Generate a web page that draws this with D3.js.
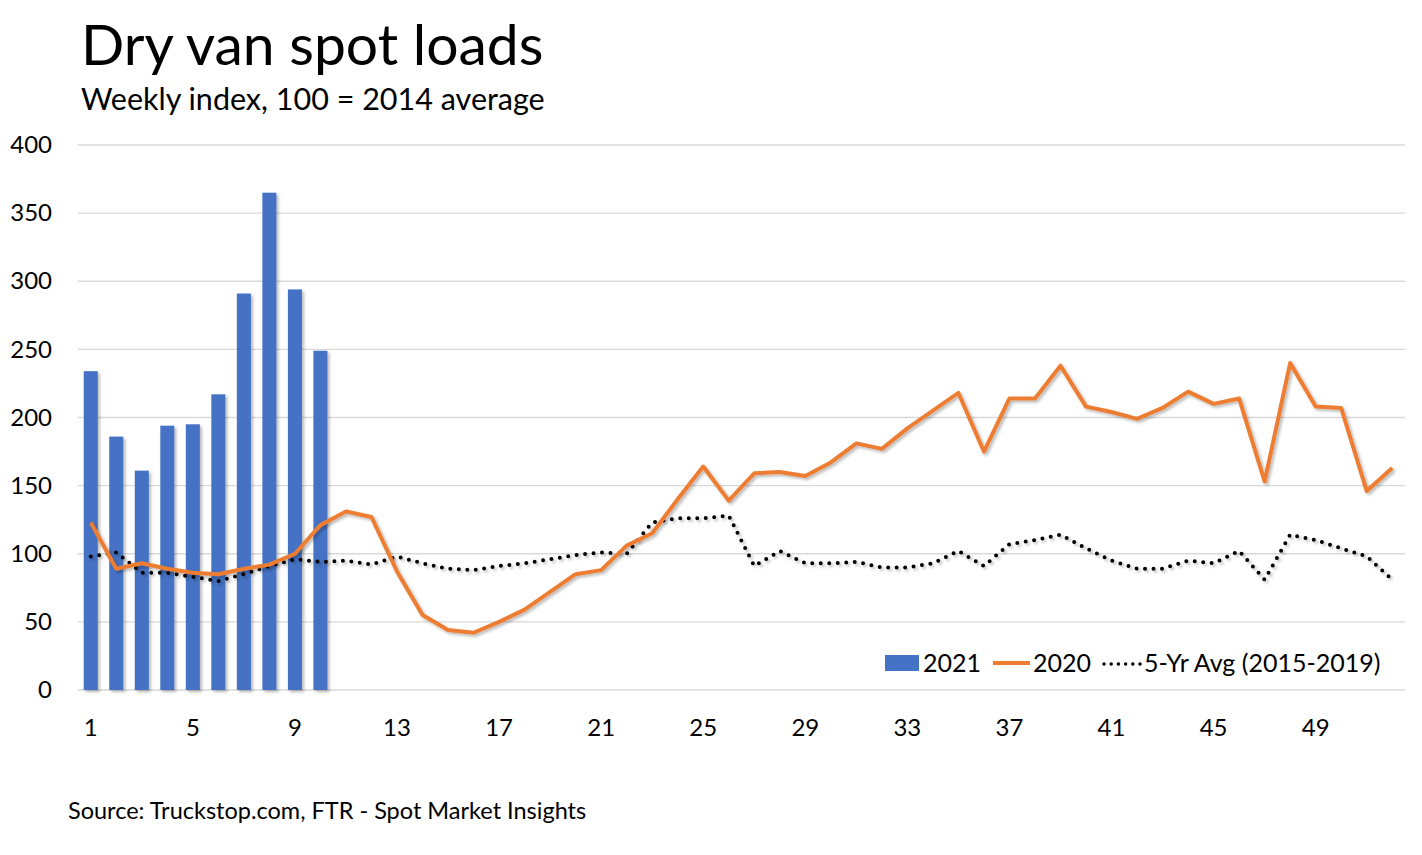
<!DOCTYPE html>
<html>
<head>
<meta charset="utf-8">
<script src="https://cdn.jsdelivr.net/npm/d3@7"></script>
<style>
  body { margin: 0; background: #fff; }
  svg { display: block; font-family: Lato, "Open Sans", sans-serif; }
</style>
</head>
<body>
<svg id="chart"></svg>
<script>
const weeks = d3.range(1, 53);

// 2021 weekly index (bars)
const loads2021 = [234, 186, 161, 194, 195, 217, 291, 365, 294, 249];

// 2020 weekly index
const loads2020 = [123, 89, 93, 89, 86, 85, 89, 92, 100, 121, 131, 127, 87, 55, 44, 42, 50, 59, 72, 85,
    88, 106, 115, 140, 164, 139, 159, 160, 157, 167, 181, 177, 192, 205, 218, 175, 214, 214, 238, 208,
    204, 199, 207, 219, 210, 214, 153, 240, 208, 207, 146, 163];

// 5-yr average 2015-2019
const avg5yr = [98, 101, 86, 86, 83, 80, 85, 91, 96, 94, 95, 92, 98, 93, 89, 88, 91, 93, 96, 99,
    101, 100, 123, 126, 126, 128, 91, 102, 93, 93, 94, 90, 90, 93, 102, 91, 107, 110, 114, 104,
    95, 89, 89, 95, 93, 102, 81, 114, 110, 104, 98, 81];

const yTicks = [0, 50, 100, 150, 200, 250, 300, 350, 400];
const xTicks = [1, 5, 9, 13, 17, 21, 25, 29, 33, 37, 41, 45, 49];

const width = 1422, height = 855;
const plot = { left: 78, right: 1405, top: 145, bottom: 690 };

const svg = d3.select("#chart")
    .attr("width", width)
    .attr("height", height);

// soft shadow like the office chart
const defs = svg.append("defs");
const f = defs.append("filter").attr("id", "shadow")
    .attr("x", "-20%").attr("y", "-20%").attr("width", "140%").attr("height", "140%");
f.append("feDropShadow")
    .attr("dx", 2).attr("dy", 2)
    .attr("stdDeviation", 1.5)
    .attr("flood-color", "#000")
    .attr("flood-opacity", 0.28);

const x = d3.scaleBand()
    .domain(weeks)
    .range([plot.left, plot.right])
    .paddingInner(0.45)
    .paddingOuter(0.225);

const xc = d => x(d) + x.bandwidth() / 2;

const y = d3.scaleLinear()
    .domain([0, 400])
    .range([plot.bottom, plot.top]);

// titles
svg.append("text")
    .attr("x", 81).attr("y", 65)
    .attr("font-size", 57)
    .attr("fill", "#000")
    .text("Dry van spot loads");

svg.append("text")
    .attr("x", 81).attr("y", 110)
    .attr("font-size", 30.5)
    .attr("fill", "#000")
    .text("Weekly index, 100 = 2014 average");

// grid lines
svg.append("g")
    .selectAll("line")
    .data(yTicks)
    .join("line")
    .attr("x1", plot.left).attr("x2", plot.right)
    .attr("y1", d => y(d)).attr("y2", d => y(d))
    .attr("stroke", "#d9d9d9")
    .attr("stroke-width", 1.3);

// y axis labels
const yAxis = svg.append("g")
    .attr("transform", `translate(${plot.left - 26},0)`)
    .call(d3.axisLeft(y).tickValues(yTicks).tickSize(0).tickPadding(0));
yAxis.select(".domain").remove();
yAxis.selectAll("text")
    .attr("font-size", 24)
    .attr("font-family", "Lato, sans-serif")
    .attr("fill", "#000");

// x axis labels
const xAxis = svg.append("g")
    .attr("transform", `translate(0,${plot.bottom})`)
    .call(d3.axisBottom(x).tickValues(xTicks).tickSize(0).tickPadding(29));
xAxis.select(".domain").remove();
xAxis.selectAll("text")
    .attr("font-size", 24)
    .attr("font-family", "Lato, sans-serif")
    .attr("fill", "#000");

// bars 2021
svg.append("g")
    .attr("filter", "url(#shadow)")
    .selectAll("rect")
    .data(loads2021)
    .join("rect")
    .attr("x", (d, i) => x(weeks[i]))
    .attr("y", d => y(d))
    .attr("width", x.bandwidth())
    .attr("height", d => y(0) - y(d))
    .attr("fill", "#4472C4");

const line = d3.line()
    .x((d, i) => xc(weeks[i]))
    .y(d => y(d));

// 5-yr average dotted
svg.append("path")
    .datum(avg5yr)
    .attr("d", line)
    .attr("fill", "none")
    .attr("stroke", "#000")
    .attr("stroke-width", 4)
    .attr("stroke-linecap", "round")
    .attr("stroke-dasharray", "0,8.5")
    .attr("filter", "url(#shadow)");

// 2020 line
svg.append("path")
    .datum(loads2020)
    .attr("d", line)
    .attr("fill", "none")
    .attr("stroke", "#ED7D31")
    .attr("stroke-width", 4)
    .attr("stroke-linejoin", "round")
    .attr("filter", "url(#shadow)");

// legend
const lg = svg.append("g").attr("font-size", 25).attr("fill", "#000");
lg.append("rect")
    .attr("x", 885).attr("y", 655).attr("width", 34).attr("height", 16)
    .attr("fill", "#4472C4");
lg.append("text").attr("x", 923).attr("y", 672).text("2021");
lg.append("line")
    .attr("x1", 993).attr("x2", 1030).attr("y1", 663).attr("y2", 663)
    .attr("stroke", "#ED7D31").attr("stroke-width", 4);
lg.append("text").attr("x", 1033).attr("y", 672).text("2020");
lg.append("line")
    .attr("x1", 1104).attr("x2", 1140).attr("y1", 664).attr("y2", 664)
    .attr("stroke", "#000").attr("stroke-width", 3.5)
    .attr("stroke-linecap", "round")
    .attr("stroke-dasharray", "0,7.2");
lg.append("text").attr("x", 1144).attr("y", 672).text("5-Yr Avg (2015-2019)");

// source
svg.append("text")
    .attr("x", 68).attr("y", 819)
    .attr("font-size", 23.5)
    .attr("fill", "#000")
    .text("Source: Truckstop.com, FTR - Spot Market Insights");
</script>
</body>
</html>
